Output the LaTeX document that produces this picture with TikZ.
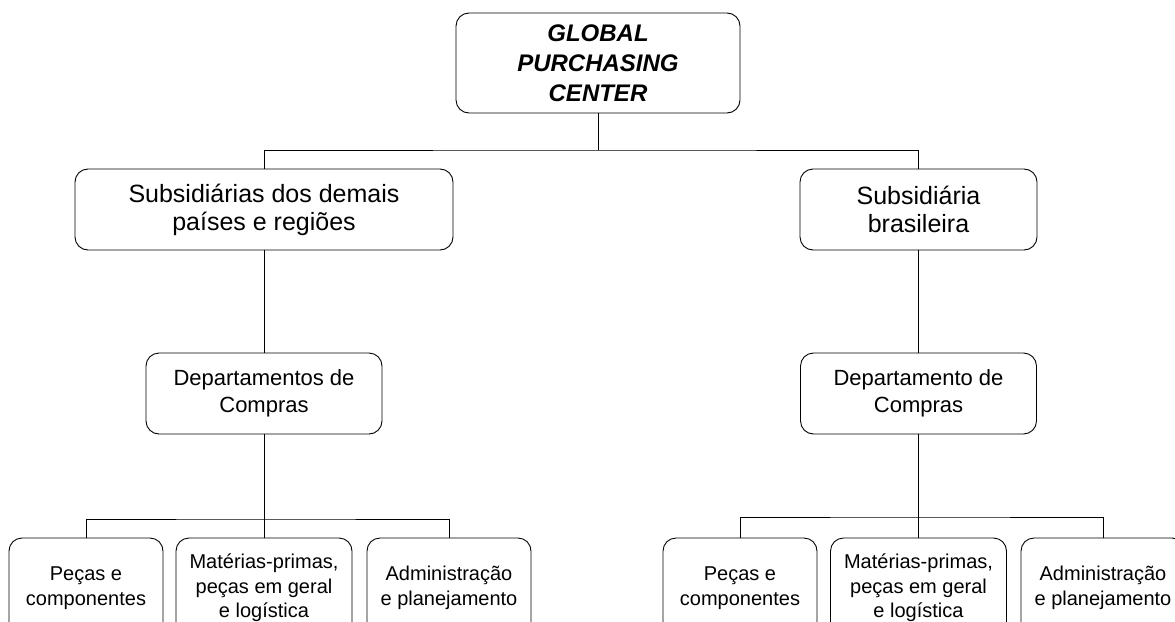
\documentclass[tikz,border=0pt]{standalone}
\usepackage{fontspec}
\setmainfont{Liberation Sans}
\begin{document}
\begin{tikzpicture}[x=1pt,y=-1pt,
  box/.style={draw, line width=0.9pt, rounded corners=13pt, align=center,
    inner sep=0pt, fill=white},
  link/.style={line width=0.9pt},
  heavy/.style={line width=1.4pt},
  toptxt/.style={font=\fontsize{24}{30}\selectfont\bfseries\itshape},
  subtxt/.style={font=\fontsize{25}{28}\selectfont},
  deptxt/.style={font=\fontsize{22}{27}\selectfont},
  leaftxt/.style={font=\fontsize{20}{24.5}\selectfont}]
\useasboundingbox (0,0) rectangle (1175,621);
\clip (0,0) rectangle (1175,621);

% head office
\node[box, toptxt, minimum width=284pt, minimum height=100pt] (gpc) at (598,63)
  {GLOBAL\\PURCHASING\\CENTER};

% subsidiaries
\node[box, subtxt, minimum width=378pt, minimum height=81pt] (subL) at (264,209.5)
  {Subsidiárias dos demais\\países e regiões};
\node[box, subtxt, minimum width=237pt, minimum height=81pt] (subR) at (918.5,209.5)
  {Subsidiária\\brasileira};

% purchasing departments
\node[box, deptxt, minimum width=236pt, minimum height=81pt] (depL) at (264,393.5)
  {Departamentos de\\Compras};
\node[box, deptxt, minimum width=236pt, minimum height=81pt] (depR) at (918.5,393.5)
  {Departamento de\\Compras};

% sections (boxes run past the lower edge)
\node[box, leaftxt, minimum width=154pt, minimum height=100pt] (L1) at (86,588)
  {Peças e\\componentes};
\node[box, leaftxt, minimum width=176pt, minimum height=100pt] (L2) at (264,588)
  {Matérias-primas,\\peças em geral\\e logística};
\node[box, leaftxt, minimum width=164pt, minimum height=100pt] (L3) at (449,588)
  {Administração\\e planejamento};
\node[box, leaftxt, minimum width=154pt, minimum height=100pt] (R1) at (740,588)
  {Peças e\\componentes};
\node[box, leaftxt, minimum width=176pt, minimum height=100pt] (R2) at (918.5,588)
  {Matérias-primas,\\peças em geral\\e logística};
\node[box, leaftxt, minimum width=164pt, minimum height=100pt] (R3) at (1103,588)
  {Administração\\e planejamento};

% junction points
\coordinate (j0) at (598,150);
\coordinate (jL) at (264,519);
\coordinate (jR) at (918.5,517);

% connectors
\draw[link] (gpc.south) -- (j0);
\draw[link] (subL.north) |- (j0) -| (subR.north);
\draw[link] (subL.south) -- (depL.north);
\draw[link] (subR.south) -- (depR.north);
\draw[link] (depL.south) -- (L2.north);
\draw[link] (L1.north) |- (jL) -| (L3.north);
\draw[heavy] (depR.south) -- (jR);
\draw[link] (jR) -- (R2.north);
\draw[link] (R1.north) |- (jR) -| (R3.north);
\end{tikzpicture}
\end{document}
